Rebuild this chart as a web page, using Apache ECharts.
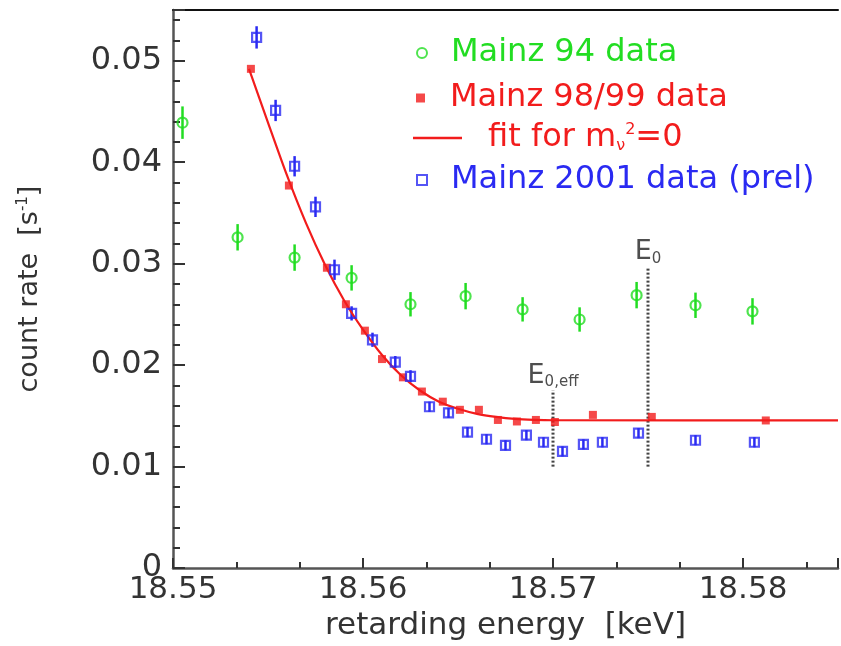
<!DOCTYPE html>
<html><head><meta charset="utf-8">
<script src="https://cdn.jsdelivr.net/npm/echarts@6/dist/echarts.min.js"></script>
<style>html,body{margin:0;padding:0;background:#fff}#c{width:841px;height:646px}</style>
</head><body><div id="c"></div>
<script>
// ---- data ----
const xRange = [18.55, 18.585];
const yRange = [0, 0.055];
const xTickStep = 0.01;
const yTickStep = 0.01;

const m94X   = [18.5505,18.5534,18.5564,18.5594,18.5625,18.5654,18.5684,18.5714,18.5744,18.5775,18.5805];
const m94Y   = [0.0439,0.0326,0.0306,0.0286,0.0260,0.0268,0.0255,0.0245,0.0269,0.0259,0.0253];
const m94Err = [0.0016,0.0013,0.0013,0.00125,0.0012,0.0013,0.0012,0.0012,0.0013,0.00125,0.0013];

const m98X = [18.5541,18.5561,18.5581,18.5591,18.5601,18.5610,18.5621,18.5631,18.5642,18.5651,18.5661,18.5671,18.5681,18.5691,18.5701,18.5721,18.5752,18.5812];
const m98Y = [0.0492,0.0377,0.0296,0.0260,0.0234,0.0206,0.0188,0.0174,0.0164,0.0156,0.0156,0.0146,0.01445,0.0146,0.0144,0.0151,0.0149,0.01455];

const fitX = [18.554,18.555,18.556,18.557,18.558,18.559,18.560,18.561,18.562,18.563,18.564,18.565,18.566,18.567,18.568,18.569,18.570,18.585];
const fitY = [0.0492,0.0439,0.0387,0.0340,0.0299,0.0264,0.0235,0.0210,0.0190,0.0175,0.0164,0.0157,0.0152,0.0149,0.0147,0.01461,0.01457,0.01455];

const m01X   = [18.5544,18.5554,18.5564,18.5575,18.5585,18.5594,18.5605,18.5617,18.5625,18.5635,18.5645,18.5655,18.5665,18.5675,18.5686,18.5695,18.5705,18.5716,18.5726,18.5745,18.5775,18.5806];
const m01Y   = [0.0523,0.0451,0.0396,0.0356,0.0294,0.0251,0.0225,0.0203,0.0189,0.0159,0.0153,0.0134,0.0127,0.0121,0.0131,0.0124,0.0115,0.0122,0.0124,0.0133,0.0126,0.0124];
const m01Err = [0.0011,0.00105,0.001,0.001,0.001,0.0007,0.0007,0.0006,0.0006,0.0005,0.0005,0.0005,0.0005,0.0005,0.0005,0.0005,0.0005,0.0005,0.0005,0.0005,0.0005,0.0005];

const eLineX      = [18.570, 18.575];
const eLineBottom = [0.0100, 0.0100];
const eLineTop    = [0.0175, 0.0297];
const eLabels     = ['E{s|0,eff}', 'E{s|0}'];

const names = ['Mainz 94 data', 'Mainz 98/99 data', 'fit for m\u03bd\u00b2=0', 'Mainz 2001 data (prel)'];

// ---- styling ----
const G = '#22dd22', R = '#f21c1c', B = '#2a2af2';
const FONT = 'DejaVu Sans';
const AX = '#555';

const chart = echarts.init(document.getElementById('c'), null, {renderer: 'canvas'});

function errSeries(xs, ys, es, color) {
  return {
    type: 'custom', silent: true, z: 2,
    data: xs.map((x, i) => [x, ys[i], es[i]]),
    encode: {x: 0, y: 1},
    renderItem: function (params, api) {
      const x = api.value(0), y = api.value(1), e = api.value(2);
      const p1 = api.coord([x, y - e]), p2 = api.coord([x, y + e]);
      return {type: 'line', shape: {x1: p1[0], y1: p1[1], x2: p2[0], y2: p2[1]},
              style: {stroke: color, lineWidth: 2.5}};
    }
  };
}

const series = [
  errSeries(m94X, m94Y, m94Err, G),
  { name: names[0], type: 'scatter', z: 3, symbol: 'circle', symbolSize: 10,
    data: m94X.map((x, i) => [x, m94Y[i]]),
    itemStyle: {color: 'rgba(255,255,255,0)', borderColor: G, borderWidth: 2.2} },
  { name: names[2], type: 'line', z: 4, symbol: 'none', smooth: 0.25,
    data: fitX.map((x, i) => [x, fitY[i]]),
    lineStyle: {color: R, width: 2.2}, itemStyle: {color: R} },
  { name: names[1], type: 'scatter', z: 5, symbol: 'rect', symbolSize: 8,
    data: m98X.map((x, i) => [x, m98Y[i]]),
    itemStyle: {color: R} },
  errSeries(m01X, m01Y, m01Err, B),
  { name: names[3], type: 'scatter', z: 6, symbol: 'rect', symbolSize: 9,
    data: m01X.map((x, i) => [x, m01Y[i]]),
    itemStyle: {color: 'rgba(255,255,255,0)', borderColor: B, borderWidth: 2.2} }
];

eLineX.forEach((x, i) => {
  series.push({
    type: 'line', silent: true, symbol: 'none', z: 1,
    data: [[x, eLineBottom[i]], [x, eLineTop[i]]],
    lineStyle: {color: '#444', width: 3, type: [2, 2]}
  });
  series.push({
    type: 'scatter', silent: true, symbol: 'circle', symbolSize: 1,
    itemStyle: {color: 'rgba(0,0,0,0)'},
    data: [[x, eLineTop[i]]],
    label: {
      show: true, position: 'top', distance: 0,
      formatter: eLabels[i],
      color: '#222', fontFamily: FONT, fontSize: 27,
      rich: { s: {fontFamily: FONT, fontSize: 15, color: '#222', verticalAlign: 'bottom', lineHeight: 28} }
    }
  });
});

const legTxt = (color, padLeft) => ({color: color, fontFamily: FONT, fontSize: 32, lineHeight: 32, padding: [0, 0, 0, padLeft]});

const option = {
  animation: false,
  backgroundColor: '#fff',
  grid: {left: 173, top: 10, width: 672, bottom: 64, containLabel: false},
  legend: [
    { selectedMode: false, orient: 'vertical', left: 411, top: 32, itemWidth: 10, itemHeight: 10,
      data: [{name: names[0], icon: 'circle', itemStyle: {color: 'rgba(255,255,255,0)', borderColor: G, borderWidth: 2}}],
      textStyle: legTxt(G, 19) },
    { selectedMode: false, orient: 'vertical', left: 411, top: 77, itemWidth: 9, itemHeight: 9,
      data: [{name: names[1], icon: 'rect', itemStyle: {color: R}}],
      textStyle: legTxt(R, 20) },
    { selectedMode: false, orient: 'vertical', left: 408, top: 117, itemWidth: 49, itemHeight: 3,
      data: [{name: names[2], icon: 'path://M0,0H100V5H0Z', itemStyle: {color: R, borderWidth: 0}}],
      formatter: () => 'fit for m{sub|\u03bd}{sup|2}=0',
      textStyle: Object.assign(legTxt(R, 21), {rich: {
        sub: {fontFamily: FONT, fontSize: 16, color: R, verticalAlign: 'bottom', lineHeight: 32},
        sup: {fontFamily: FONT, fontSize: 16, color: R, verticalAlign: 'top', lineHeight: 32}
      }}) },
    { selectedMode: false, orient: 'vertical', left: 411, top: 159, itemWidth: 10, itemHeight: 10,
      data: [{name: names[3], icon: 'rect', itemStyle: {color: 'rgba(255,255,255,0)', borderColor: B, borderWidth: 2}}],
      textStyle: legTxt(B, 19) }
  ],
  xAxis: [
    { type: 'value', min: xRange[0], max: xRange[1], interval: xTickStep,
      name: 'retarding energy  [keV]', nameLocation: 'middle', nameGap: 35,
      nameTextStyle: {color: '#333', fontFamily: FONT, fontSize: 31},
      axisLine: {show: true, lineStyle: {color: AX, width: 2.5}},
      axisTick: {show: true, inside: true, length: 10, lineStyle: {color: '#333', width: 2}},
      minorTick: {show: true, splitNumber: 3, length: 6, lineStyle: {color: '#333', width: 2}},
      splitLine: {show: false},
      axisLabel: {color: '#333', fontFamily: FONT, fontSize: 31, margin: 6,
        formatter: v => { const k = Math.round((v - xRange[0]) / xTickStep); return Math.abs(v - (xRange[0] + k * xTickStep)) < 1e-7 ? v.toFixed(2) : ''; }} },
    { type: 'value', position: 'top', min: xRange[0], max: xRange[1],
      axisLine: {show: true, lineStyle: {color: '#111', width: 2}},
      axisTick: {show: false}, axisLabel: {show: false}, splitLine: {show: false} }
  ],
  yAxis: {
    type: 'value', min: yRange[0], max: yRange[1], interval: yTickStep,
    name: 'count rate  [s{sup|-1}]', nameLocation: 'middle', nameGap: 130, nameRotate: 90,
    nameTextStyle: {color: '#333', fontFamily: FONT, fontSize: 27,
      rich: {sup: {fontFamily: FONT, fontSize: 15, color: '#333', verticalAlign: 'top', lineHeight: 27}}},
    axisLine: {show: true, lineStyle: {color: AX, width: 2.5}},
    axisTick: {show: true, inside: true, length: 12, lineStyle: {color: '#333', width: 2}},
    minorTick: {show: true, splitNumber: 5, length: 7, lineStyle: {color: '#333', width: 2}},
    splitLine: {show: false},
    axisLabel: {color: '#333', fontFamily: FONT, fontSize: 32, margin: 11,
      formatter: v => { const k = Math.round(v / yTickStep); return Math.abs(v - k * yTickStep) < 1e-9 ? (k === 0 ? '0' : (k * yTickStep).toFixed(2)) : ''; }}
  },
  series: series
};
chart.setOption(option);
</script></body></html>
